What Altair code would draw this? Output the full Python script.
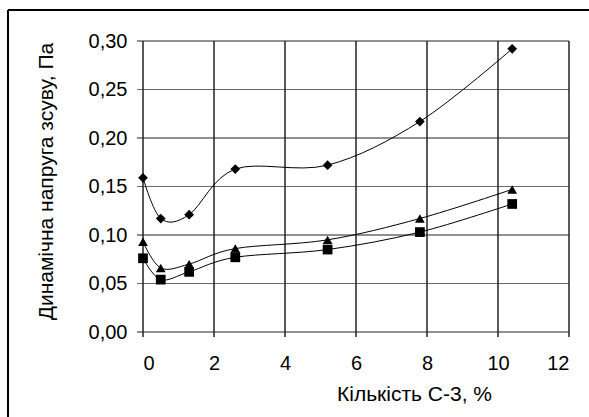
import altair as alt
import pandas as pd

# Data
x_vals = [0, 0.5, 1.3, 2.6, 5.2, 7.8, 10.4]
series_diamond = [0.159, 0.117, 0.121, 0.168, 0.172, 0.217, 0.292]
series_triangle = [0.093, 0.066, 0.070, 0.086, 0.095, 0.117, 0.147]
series_square = [0.076, 0.054, 0.062, 0.077, 0.085, 0.103, 0.132]
series_names = ["diamond", "triangle", "square"]
x_ticks = [0, 2, 4, 6, 8, 10, 12]
y_ticks = [0, 0.05, 0.10, 0.15, 0.20, 0.25, 0.30]

rows = []
for name, vals in zip(series_names, [series_diamond, series_triangle, series_square]):
    for xv, yv in zip(x_vals, vals):
        rows.append({"x": xv, "y": yv, "s": name})
df = pd.DataFrame(rows)
xt = pd.DataFrame({"t": x_ticks})
yt = pd.DataFrame({"t": y_ticks})

W, H = 426, 291
FONT = "Liberation Sans"
VGRID = "#222222"
HGRID = "#6a6a6a"
LFS = 20
TFS = 21

xs = alt.Scale(domain=[0, 12], nice=False, zero=False)
ys = alt.Scale(domain=[0, 0.3], nice=False, zero=False)

x_enc = alt.X(
    "x:Q", scale=xs,
    axis=alt.Axis(
        values=x_ticks, title="Кількість С-3, %", grid=False, ticks=False, domain=False,
        labelPadding=21, titleX=271, titleY=62,
        titleBaseline="middle", titleAlign="center",
    ),
)
y_enc = alt.Y(
    "y:Q", scale=ys,
    axis=alt.Axis(
        values=y_ticks, title="Динамічна напруга зсуву, Па", grid=False, ticks=False, domain=False,
        labelExpr="replace(format(datum.value, '.2f'), '.', ',')",
        labelPadding=16, titleX=-97, titleY=140, titleAngle=-90,
        titleBaseline="middle", titleAlign="center",
    ),
)

shape_scale = alt.Scale(domain=series_names, range=["diamond", "triangle-up", "square"])

frame = alt.Chart(df).mark_rect(
    stroke="black", strokeWidth=1, fill="white", fillOpacity=0
).encode(
    x=alt.value(-135), x2=alt.value(470), y=alt.value(-31), y2=alt.value(420)
)

# grid lines drawn as zero-width stroked rects (paths)
vgrid = alt.Chart(xt).mark_rect(stroke=VGRID, strokeWidth=1, fillOpacity=0).encode(
    x=alt.X("t:Q", scale=xs), x2="t:Q", y=alt.value(0), y2=alt.value(H + 5)
)
hgrid = alt.Chart(yt).mark_rect(stroke=HGRID, strokeWidth=1, fillOpacity=0).encode(
    y=alt.Y("t:Q", scale=ys), y2="t:Q", x=alt.value(-6), x2=alt.value(W)
)

lines = alt.Chart(df).mark_line(
    interpolate="cardinal", color="black", strokeWidth=1
).encode(x=x_enc, y=y_enc, detail="s:N")

points = alt.Chart(df).mark_point(
    filled=True, color="black", size=95, opacity=1
).encode(
    x="x:Q", y="y:Q",
    shape=alt.Shape("s:N", scale=shape_scale, legend=None),
)

chart = alt.layer(frame, hgrid, vgrid, lines, points).properties(
    width=W, height=H,
    padding={"left": 143, "top": 41, "right": 20, "bottom": 85},
    autosize=alt.AutoSizeParams(type="none"),
    background="white",
).configure_view(stroke=None).configure_axis(
    labelFont=FONT, labelFontSize=LFS, labelColor="black",
    titleFont=FONT, titleFontSize=TFS, titleFontWeight="normal", titleColor="black",
)

chart.save("out.html", embed_options={"renderer": "svg", "actions": False})
